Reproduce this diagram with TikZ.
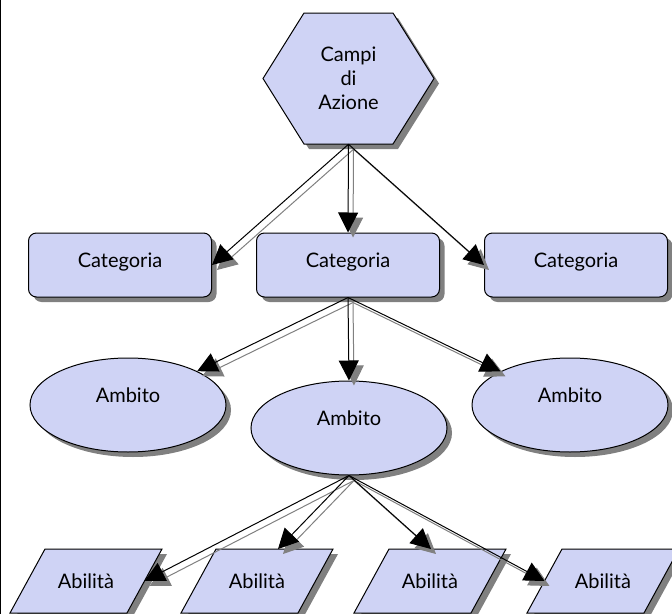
\documentclass[tikz,border=0pt]{standalone}
\usepackage{fontspec}
\setmainfont{Lato}
\usetikzlibrary{arrows.meta,shapes.geometric,shadows}
\definecolor{shapefill}{RGB}{207,211,245}
\definecolor{shadowgray}{RGB}{128,128,128}
\newcommand\abilshape[2]{%
  \path[shp] (#2-76,613) -- (#2-41,549) -- (#2+76,549) -- (#2+41,613) -- cycle;
  \node[lbl] (#1) at (#2,581) {Abilità};
}
\begin{document}
\begin{tikzpicture}[x=0.75pt,y=-0.75pt,
  lbl/.style={font=\fontsize{15}{18}\selectfont, inner sep=0pt, align=center},
  shd/.style={drop shadow={shadow xshift=3.75pt, shadow yshift=-3.75pt, fill=shadowgray, opacity=1}},
  shp/.style={draw=black, line width=0.75pt, fill=shapefill, shd},
  catbox/.style={shp, lbl, rounded corners=6pt, minimum width=137.25pt, minimum height=48pt, text height=11pt, text depth=7.7pt},
  ambito/.style={shp, lbl, ellipse, minimum width=147pt, minimum height=70.5pt, text height=10pt, text depth=14.2pt},
  arr/.style={line width=0.75pt, -{Triangle[length=15pt,width=15pt]}},
  arrshd/.style={arr, draw=shadowgray, transform canvas={shift={(3.75pt,-3.75pt)}}}
]
\useasboundingbox (0,0) rectangle (672,614);
\draw[line width=0.75pt] (0.5,0) -- (0.5,614);

% hexagon
\path[shp] (263,78.5) -- (304,13) -- (393,13) -- (434,78.5) -- (393,144) -- (304,144) -- cycle;
\node[lbl, minimum width=127.5pt, minimum height=98.25pt] (hex) at (348.5,78.5) {Campi\\di\\Azione};

% categories
\node[catbox] (c1) at (120,265) {Categoria};
\node[catbox] (c2) at (348,265) {Categoria};
\node[catbox] (c3) at (576,265) {Categoria};

% ambiti
\node[ambito] (e1) at (128,405) {Ambito};
\node[ambito] (e2) at (349,428) {Ambito};
\node[ambito] (e3) at (570,405) {Ambito};

% abilita
\abilshape{p1}{86}
\abilshape{p2}{257}
\abilshape{p3}{430}
\abilshape{p4}{603}
\coordinate (p1e) at (86+58.5,581);
\coordinate (p2t) at (278,549);
\coordinate (p3t) at (431,549);
\coordinate (p4w) at (603-58.5,581);

% connector shadows
\foreach \a/\b in {hex.south/c1.east, hex.south/c2.north, hex.south/c3.west,
                   c2.south/e1, c2.south/e2.north, c2.south/e3,
                   e2.south/p1e, e2.south/p2t, e2.south/p3t, e2.south/p4w}
  \draw[arrshd] (\a) -- (\b);
% connectors
\foreach \a/\b in {hex.south/c1.east, hex.south/c2.north, hex.south/c3.west,
                   c2.south/e1, c2.south/e2.north, c2.south/e3,
                   e2.south/p1e, e2.south/p2t, e2.south/p3t, e2.south/p4w}
  \draw[arr] (\a) -- (\b);
\end{tikzpicture}
\end{document}
